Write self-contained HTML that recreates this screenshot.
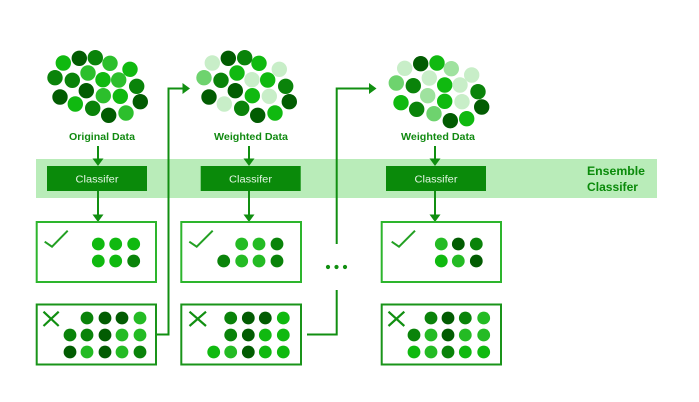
<!DOCTYPE html>
<html><head><meta charset="utf-8"><style>html,body{margin:0;padding:0;background:#fff}svg{display:block}text{font-family:"Liberation Sans",sans-serif}</style></head><body>
<svg width="699" height="402" viewBox="0 0 699 402" xmlns="http://www.w3.org/2000/svg">
<rect width="699" height="402" fill="#fff"/>
<rect x="36" y="159" width="621" height="39" fill="#b9ecb9"/>
<g fill="#0a8a0a">
<rect x="47" y="166" width="100" height="25"/><rect x="200.7" y="166" width="100" height="25"/><rect x="386" y="166" width="100" height="25"/>
</g>
<g fill="none" stroke="#118f11" stroke-width="2">
<path d="M98 146V162M98 191V218M249 146V162M249 191V218M435 146V162M435 191V218"/>
<path d="M156 334.5H168.5V88.5H185M307 334.5H336.7V290M336.7 244V88.5H372"/>
</g>
<g fill="#118f11">
<path d="M92.5 158.5H103.5L98 166ZM243.5 158.5H254.5L249 166ZM429.5 158.5H440.5L435 166ZM92.5 214.5H103.5L98 222ZM243.5 214.5H254.5L249 222ZM429.5 214.5H440.5L435 222Z"/>
<path d="M182.5 83L190 88.5L182.5 94ZM369 83L376.5 88.5L369 94Z"/>
<circle cx="328" cy="267" r="2.1"/><circle cx="336.5" cy="267" r="2.1"/><circle cx="345" cy="267" r="2.1"/>
</g>
<g fill="#fff" stroke-width="2">
<rect x="36.7" y="222" width="119.3" height="60" stroke="#2db52d"/>
<rect x="181.3" y="222" width="119.7" height="60" stroke="#2db52d"/>
<rect x="381.7" y="222" width="119.3" height="60" stroke="#2db52d"/>
<rect x="36.7" y="304.5" width="119.3" height="60" stroke="#1a941a"/>
<rect x="181.3" y="304.5" width="119.7" height="60" stroke="#1a941a"/>
<rect x="381.7" y="304.5" width="119.3" height="60" stroke="#1a941a"/>
</g>
<g fill="none" stroke="#23a023" stroke-width="2">
<path d="M44.7 241.7L52 246.7L67.7 230.7M189.3 241.7L196.7 246.7L212.7 230.7M391.7 241.7L399 246.7L415 230.7"/>
</g>
<g fill="none" stroke="#118f11" stroke-width="2.2">
<path d="M43.5 311.7L58.7 326M58.7 311.7L43.5 326M189.5 311.7L206 326M206 311.7L189.5 326M388.5 311.7L404.3 326M404.3 311.7L388.5 326"/>
</g>
<!-- data blobs -->
<g>
<g fill="#10b910"><circle cx="63.3" cy="63" r="7.7"/><circle cx="103" cy="79.7" r="7.7"/><circle cx="75.3" cy="104" r="7.7"/><circle cx="120.3" cy="96.3" r="7.7"/><circle cx="130" cy="69.3" r="7.7"/>
<circle cx="259" cy="63.3" r="7.7"/><circle cx="237" cy="73" r="7.7"/><circle cx="267.7" cy="80" r="7.7"/><circle cx="252.3" cy="95.7" r="7.7"/><circle cx="275" cy="113" r="7.7"/>
<circle cx="437" cy="63" r="7.7"/><circle cx="444.7" cy="85" r="7.7"/><circle cx="444.7" cy="101.3" r="7.7"/><circle cx="466.7" cy="118.7" r="7.7"/><circle cx="401" cy="102.7" r="7.7"/></g>
<g fill="#2cbf2c"><circle cx="110" cy="63.3" r="7.7"/><circle cx="88" cy="73" r="7.7"/><circle cx="118.7" cy="80" r="7.7"/><circle cx="103.3" cy="95.7" r="7.7"/><circle cx="126" cy="113" r="7.7"/></g>
<g fill="#0a830a"><circle cx="95.3" cy="57.7" r="7.7"/><circle cx="55" cy="77.7" r="7.7"/><circle cx="72.3" cy="80.3" r="7.7"/><circle cx="136.7" cy="86.3" r="7.7"/><circle cx="92.7" cy="108.3" r="7.7"/>
<circle cx="244.7" cy="57.7" r="7.7"/><circle cx="221" cy="80.3" r="7.7"/><circle cx="285.7" cy="86.3" r="7.7"/><circle cx="241.7" cy="108.3" r="7.7"/>
<circle cx="413.3" cy="85.7" r="7.7"/><circle cx="478" cy="91.7" r="7.7"/><circle cx="416.7" cy="109.3" r="7.7"/></g>
<g fill="#025c02"><circle cx="79.3" cy="58.3" r="7.7"/><circle cx="60" cy="97" r="7.7"/><circle cx="86.3" cy="90.7" r="7.7"/><circle cx="140.3" cy="101.7" r="7.7"/><circle cx="108.7" cy="115.3" r="7.7"/>
<circle cx="228.3" cy="58.3" r="7.7"/><circle cx="209" cy="97" r="7.7"/><circle cx="235.3" cy="90.7" r="7.7"/><circle cx="289.3" cy="101.7" r="7.7"/><circle cx="257.7" cy="115.3" r="7.7"/>
<circle cx="420.7" cy="63.7" r="7.7"/><circle cx="481.7" cy="107" r="7.7"/><circle cx="450.3" cy="120.7" r="7.7"/></g>
<g fill="#c8eec8"><circle cx="212.3" cy="63" r="7.7"/><circle cx="279.3" cy="69.3" r="7.7"/><circle cx="252" cy="79.7" r="7.7"/><circle cx="224.3" cy="104" r="7.7"/><circle cx="269.3" cy="96.3" r="7.7"/>
<circle cx="404.7" cy="68.3" r="7.7"/><circle cx="471.7" cy="75" r="7.7"/><circle cx="429.3" cy="78" r="7.7"/><circle cx="460" cy="85" r="7.7"/><circle cx="462" cy="101.7" r="7.7"/></g>
<g fill="#6ed36e"><circle cx="204" cy="77.7" r="7.7"/><circle cx="396.3" cy="83" r="7.7"/><circle cx="434" cy="113.7" r="7.7"/></g>
<g fill="#9fe29f"><circle cx="451.3" cy="68.7" r="7.7"/><circle cx="427.7" cy="95.7" r="7.7"/></g>
</g>
<!-- box dots -->
<g>
<g fill="#10b910"><circle cx="98.3" cy="244" r="6.4"/><circle cx="115.7" cy="244" r="6.4"/><circle cx="133.7" cy="244" r="6.4"/><circle cx="98.3" cy="261" r="6.4"/><circle cx="115.7" cy="261" r="6.4"/>
<circle cx="283.3" cy="318" r="6.4"/><circle cx="265.3" cy="335" r="6.4"/><circle cx="283.3" cy="335" r="6.4"/><circle cx="213.7" cy="352" r="6.4"/><circle cx="265.3" cy="352" r="6.4"/><circle cx="283.3" cy="352" r="6.4"/>
<circle cx="441.3" cy="261" r="6.4"/><circle cx="414" cy="352" r="6.4"/><circle cx="465.3" cy="352" r="6.4"/><circle cx="483.7" cy="352" r="6.4"/></g>
<g fill="#24bb24"><circle cx="241.7" cy="244" r="6.4"/><circle cx="259" cy="244" r="6.4"/><circle cx="241.7" cy="261" r="6.4"/><circle cx="259" cy="261" r="6.4"/>
<circle cx="140" cy="318" r="6.4"/><circle cx="122" cy="335" r="6.4"/><circle cx="140" cy="335" r="6.4"/><circle cx="87" cy="352" r="6.4"/><circle cx="122" cy="352" r="6.4"/>
<circle cx="230.7" cy="352" r="6.4"/>
<circle cx="441.3" cy="244" r="6.4"/><circle cx="458.3" cy="261" r="6.4"/><circle cx="483.7" cy="318" r="6.4"/><circle cx="431" cy="335" r="6.4"/><circle cx="465.3" cy="335" r="6.4"/><circle cx="483.7" cy="335" r="6.4"/><circle cx="431" cy="352" r="6.4"/></g>
<g fill="#0a830a"><circle cx="133.7" cy="261" r="6.4"/><circle cx="277" cy="244" r="6.4"/><circle cx="223.7" cy="261" r="6.4"/><circle cx="277" cy="261" r="6.4"/>
<circle cx="87" cy="318" r="6.4"/><circle cx="70" cy="335" r="6.4"/><circle cx="87" cy="335" r="6.4"/><circle cx="140" cy="352" r="6.4"/>
<circle cx="230.7" cy="318" r="6.4"/><circle cx="230.7" cy="335" r="6.4"/>
<circle cx="476.3" cy="244" r="6.4"/><circle cx="431" cy="318" r="6.4"/><circle cx="465.3" cy="318" r="6.4"/><circle cx="414" cy="335" r="6.4"/><circle cx="448" cy="352" r="6.4"/></g>
<g fill="#025c02"><circle cx="105" cy="318" r="6.4"/><circle cx="122" cy="318" r="6.4"/><circle cx="105" cy="335" r="6.4"/><circle cx="70" cy="352" r="6.4"/><circle cx="105" cy="352" r="6.4"/>
<circle cx="248.3" cy="318" r="6.4"/><circle cx="265.3" cy="318" r="6.4"/><circle cx="248.3" cy="335" r="6.4"/><circle cx="248.3" cy="352" r="6.4"/>
<circle cx="458.3" cy="244" r="6.4"/><circle cx="476.3" cy="261" r="6.4"/><circle cx="448" cy="318" r="6.4"/><circle cx="448" cy="335" r="6.4"/></g>
</g>
<!-- labels -->
<g font-size="10.5" font-weight="700" fill="#118a11">
<text x="69" y="140" textLength="66" lengthAdjust="spacingAndGlyphs">Original Data</text>
<text x="214" y="140" textLength="74" lengthAdjust="spacingAndGlyphs">Weighted Data</text>
<text x="401" y="140" textLength="74" lengthAdjust="spacingAndGlyphs">Weighted Data</text>
</g>
<g font-size="10.5" fill="#e6f7e6">
<text x="75.5" y="182.5" textLength="43" lengthAdjust="spacingAndGlyphs">Classifer</text>
<text x="229" y="182.5" textLength="43" lengthAdjust="spacingAndGlyphs">Classifer</text>
<text x="414.5" y="182.5" textLength="43" lengthAdjust="spacingAndGlyphs">Classifer</text>
</g>
<g font-size="12" font-weight="700" fill="#0a8a0a">
<text x="587" y="175" textLength="58" lengthAdjust="spacingAndGlyphs">Ensemble</text>
<text x="587" y="191" textLength="51" lengthAdjust="spacingAndGlyphs">Classifer</text>
</g>
</svg>
</body></html>
